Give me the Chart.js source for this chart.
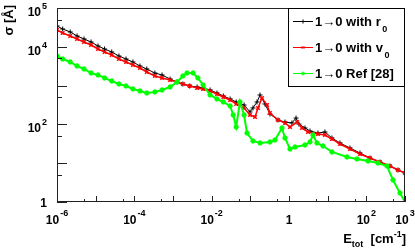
<!DOCTYPE html>
<html>
<head>
<meta charset="utf-8">
<script src="https://cdn.jsdelivr.net/npm/chart.js@4"></script>
<style>
  html, body { margin: 0; padding: 0; background: #fff; }
  #wrap { width: 415px; height: 249px; }
</style>
</head>
<body>
<div id="wrap"><canvas id="mycanvas" width="415" height="249"></canvas></div>
<script>
// values (E_tot in cm^-1, sigma in A^2)
var eR0 = [1.0e-6, 1.4e-6, 2.2e-6, 3.3e-6, 5.0e-6, 7.6e-6, 1.15e-5, 1.7e-5, 2.6e-5, 4.0e-5,
	6.1e-5, 9.2e-5, 1.4e-4, 2.1e-4, 3.4e-4, 5.2e-4, 8.4e-4, 1.27e-3, 1.8e-3, 2.7e-3,
	4.2e-3, 6.0e-3, 9.1e-3, 1.37e-2, 2.0e-2, 3.0e-2, 4.3e-2, 6.9e-2, 9.8e-2, 0.117,
	0.149, 0.178, 0.239, 0.322, 0.519, 0.787, 1.19, 1.52, 1.81, 2.59,
	3.49, 5.61, 8.51, 12.9, 20.8, 37.8, 68.5, 124, 225, 408, 658, 1000];
var sigR0 = [34400, 28800, 24100, 19000, 15900, 13300, 10500, 8770, 7350, 5790,
	4850, 4060, 3200, 2680, 2110, 1880, 1480, 1240, 1100, 977,
	920, 867, 771, 645, 540, 452, 378, 316, 209, 265,
	378, 573, 336, 185, 130, 115, 109, 146, 102, 80.8,
	67.6, 60.0, 63.7, 44.6, 33.2, 24.7, 18.3, 13.6, 10.7, 8.47, 6.68, 5.59];

var eV0 = [1.0e-6, 1.4e-6, 2.2e-6, 3.3e-6, 5.0e-6, 7.6e-6, 1.15e-5, 1.7e-5, 2.6e-5, 4.0e-5,
	6.1e-5, 9.2e-5, 1.4e-4, 2.1e-4, 3.4e-4, 5.2e-4, 8.4e-4, 1.27e-3, 1.8e-3, 2.7e-3,
	4.2e-3, 6.0e-3, 9.1e-3, 1.37e-2, 2.0e-2, 3.0e-2, 4.3e-2, 6.9e-2, 9.8e-2, 0.132,
	0.158, 0.200, 0.270, 0.322, 0.519, 0.787, 1.06, 1.61, 2.17, 3.10,
	5.61, 8.51, 12.9, 20.8, 37.8, 68.5, 124, 225, 408, 658, 1000];
var sigV0 = [27100, 22700, 19000, 15900, 13300, 11100, 8770, 7350, 6150, 4850,
	4060, 3400, 2840, 2240, 1770, 1570, 1390, 1240, 1100, 977,
	867, 817, 726, 608, 508, 426, 336, 265, 175, 155,
	265, 479, 316, 197, 130, 109, 85.7, 115, 80.8, 63.7,
	56.6, 53.3, 42.1, 31.3, 23.2, 17.3, 13.6, 10.7, 8.47, 6.68, 5.59];

var eRef = [1.0e-6, 1.4e-6, 2.2e-6, 3.3e-6, 5.0e-6, 7.6e-6, 1.15e-5, 1.7e-5, 2.6e-5, 4.0e-5,
	6.1e-5, 9.2e-5, 1.4e-4, 2.1e-4, 3.4e-4, 5.2e-4, 8.4e-4, 1.27e-3, 1.8e-3, 2.3e-3,
	3.3e-3, 4.4e-3, 6.0e-3, 9.1e-3, 1.37e-2, 2.0e-2, 3.0e-2, 3.6e-2, 4.3e-2, 5.4e-2,
	6.9e-2, 8.2e-2, 0.117, 0.178, 0.322, 0.434, 0.658, 0.787, 1.06, 1.43,
	2.59, 3.49, 4.17, 5.28, 7.57, 12.9, 31.6, 57.3, 110, 200, 342, 489, 741, 1000];
var sigRef = [5790, 4850, 4060, 3200, 2680, 2110, 1880, 1570, 1310, 1100,
	977, 817, 726, 645, 684, 771, 920, 1240, 1770, 2110,
	2110, 1570, 1035, 573, 452, 378, 298, 175, 85.7, 378,
	175, 60.0, 37.4, 33.2, 35.2, 39.6, 80.8, 44.6, 23.2, 26.2,
	29.5, 35.2, 53.3, 33.2, 27.7, 19.5, 14.5, 12.8, 11.4, 10.1, 8.47, 3.69, 1.71, 1.0];

var seriesNames = ['with r', 'with v', 'Ref [28]'];
var xMajor = [1e-6, 1e-5, 1e-4, 1e-3, 1e-2, 1e-1, 1, 10, 100, 1000];
var xMinor = [5e-6, 5e-5, 5e-4, 5e-3, 5e-2, 5e-1, 5, 50, 500];
var xLabels = [1e-6, 1e-4, 1e-2, 1, 100, 1000];
var yMajor = [1, 10, 100, 1000, 1e4, 1e5];
var yMinor = [5, 50, 500, 5000, 5e4];
var yLabels = [1, 100, 1e4, 1e5];

var FONT = "'Liberation Sans', Arial, Helvetica, sans-serif";

function pairs(xs, ys) {
	var out = [];
	for (var i = 0; i < xs.length; i++) out.push({x: xs[i], y: ys[i]});
	return out;
}

function expOf(v) { return Math.round(Math.log10(v)); }

// "10" with a raised exponent, or plain "1"
function powParts(v) {
	var e = expOf(v);
	if (e === 0) return {base: '1', sup: ''};
	return {base: '10', sup: String(e)};
}

function drawMarker(ctx, style, x, y, r) {
	if (Chart.helpers && Chart.helpers.drawPoint) {
		Chart.helpers.drawPoint(ctx, {pointStyle: style, radius: r, borderWidth: 1, rotation: 0}, x, y);
	}
}

var rootLook = {
	id: 'rootLook',
	afterDatasetsDraw: function(chart) {
		var ctx = chart.ctx, a = chart.chartArea;
		var sx = chart.scales.x, sy = chart.scales.y;
		var i, p;
		ctx.save();

		// frame
		ctx.strokeStyle = '#222';
		ctx.lineWidth = 1;
		ctx.strokeRect(a.left + 0.5, a.top + 0.5, a.right - a.left - 1, a.bottom - a.top - 1);

		// ticks, inward
		ctx.beginPath();
		for (i = 0; i < xMajor.length; i++) {
			p = Math.round(sx.getPixelForValue(xMajor[i])) + 0.5;
			ctx.moveTo(p, a.bottom); ctx.lineTo(p, a.bottom - 6);
		}
		for (i = 0; i < xMinor.length; i++) {
			p = Math.round(sx.getPixelForValue(xMinor[i])) + 0.5;
			ctx.moveTo(p, a.bottom); ctx.lineTo(p, a.bottom - 3);
		}
		for (i = 0; i < yMajor.length; i++) {
			p = Math.round(sy.getPixelForValue(yMajor[i])) + 0.5;
			ctx.moveTo(a.left, p); ctx.lineTo(a.left + 10, p);
		}
		for (i = 0; i < yMinor.length; i++) {
			p = Math.round(sy.getPixelForValue(yMinor[i])) + 0.5;
			ctx.moveTo(a.left, p); ctx.lineTo(a.left + 5, p);
		}
		ctx.stroke();

		// tick labels
		ctx.fillStyle = '#000';
		ctx.textBaseline = 'alphabetic';
		ctx.textAlign = 'left';
		for (i = 0; i < xLabels.length; i++) {
			var q = powParts(xLabels[i]);
			ctx.font = 'bold 12px ' + FONT;
			var wb = ctx.measureText(q.base).width;
			ctx.font = 'bold 9px ' + FONT;
			var ws = q.sup ? ctx.measureText(q.sup).width + 1 : 0;
			var cx = sx.getPixelForValue(xLabels[i]);
			var x0 = cx - (wb + ws) / 2;
			ctx.font = 'bold 12px ' + FONT;
			ctx.fillText(q.base, x0, a.bottom + 22);
			if (q.sup) {
				ctx.font = 'bold 9px ' + FONT;
				ctx.fillText(q.sup, x0 + wb + 1, a.bottom + 14);
			}
		}
		for (i = 0; i < yLabels.length; i++) {
			var r = powParts(yLabels[i]);
			var cy = sy.getPixelForValue(yLabels[i]);
			var right = a.left - 10;
			if (r.sup) {
				ctx.font = 'bold 9px ' + FONT;
				var ws2 = ctx.measureText(r.sup).width;
				ctx.fillText(r.sup, right - ws2, cy + 1);
				ctx.font = 'bold 12px ' + FONT;
				var wb2 = ctx.measureText(r.base).width;
				ctx.fillText(r.base, right - ws2 - 1 - wb2, cy + 8);
			} else {
				ctx.font = 'bold 12px ' + FONT;
				var w1 = ctx.measureText(r.base).width;
				ctx.fillText(r.base, right - w1, cy + 4.5);
			}
		}

		// x axis title: E_tot [cm^-1], right aligned
		var pieces = [
			{t: 'E', f: 13, dy: 0},
			{t: 'tot', f: 9, dy: 4},
			{t: '  [cm', f: 13, dy: 0},
			{t: '-1', f: 9, dy: -6},
			{t: ']', f: 13, dy: 0}
		];
		var total = 0;
		for (i = 0; i < pieces.length; i++) {
			ctx.font = 'bold ' + pieces[i].f + 'px ' + FONT;
			pieces[i].w = ctx.measureText(pieces[i].t).width;
			total += pieces[i].w;
		}
		var tx = a.right + 1 - total;
		for (i = 0; i < pieces.length; i++) {
			ctx.font = 'bold ' + pieces[i].f + 'px ' + FONT;
			ctx.fillText(pieces[i].t, tx, 243 + pieces[i].dy);
			tx += pieces[i].w;
		}

		// y axis title, rotated, at top
		ctx.save();
		ctx.translate(13, 5);
		ctx.rotate(-Math.PI / 2);
		ctx.textAlign = 'right';
		ctx.font = 'bold 13px ' + FONT;
		ctx.fillText('\u03c3 [\u00c5]', 0, 0);
		ctx.restore();

		// legend box
		var lx = 288, ly = a.top, lw = a.right - 288, lh = 79;
		ctx.fillStyle = '#fff';
		ctx.fillRect(lx, ly, lw, lh);
		ctx.strokeStyle = '#000';
		ctx.strokeRect(lx + 0.5, ly + 0.5, lw - 1, lh - 1);
		var ds = chart.data.datasets;
		for (i = 0; i < ds.length; i++) {
			var rowY = ly + 13 + i * 26;
			ctx.strokeStyle = ds[i].borderColor;
			ctx.lineWidth = 1;
			ctx.beginPath();
			ctx.moveTo(293, rowY + 0.5); ctx.lineTo(313, rowY + 0.5);
			ctx.stroke();
			drawMarker(ctx, ds[i].pointStyle, 303, rowY + 0.5, 2);
			ctx.fillStyle = '#000';
			ctx.textAlign = 'left';
			ctx.font = 'bold 13px ' + FONT;
			var txt = '1\u21920 ' + seriesNames[i];
			ctx.fillText(txt, 315, rowY + 5);
			if (i < 2) {
				var ww = ctx.measureText(txt).width;
				ctx.font = 'bold 9px ' + FONT;
				ctx.fillText('0', 315 + ww + 1.5, rowY + 11);
			}
		}
		ctx.restore();
	}
};

new Chart(document.getElementById('mycanvas'), {
	type: 'line',
	data: {
		datasets: [
			{
				label: '1->0 with r0',
				data: pairs(eR0, sigR0),
				borderColor: '#000000',
				backgroundColor: '#000000',
				pointBorderColor: '#000000',
				pointStyle: 'cross',
				borderWidth: 1,
				order: 2
			},
			{
				label: '1->0 with v0',
				data: pairs(eV0, sigV0),
				borderColor: '#ff0000',
				backgroundColor: '#ff0000',
				pointBorderColor: '#ff0000',
				pointStyle: 'crossRot',
				borderWidth: 1.5,
				order: 1
			},
			{
				label: '1->0 Ref [28]',
				data: pairs(eRef, sigRef),
				borderColor: '#00ff00',
				backgroundColor: '#00ff00',
				pointBorderColor: '#00ff00',
				pointStyle: 'star',
				borderWidth: 2,
				order: 0
			}
		]
	},
	options: {
		responsive: false,
		animation: false,
		devicePixelRatio: 1,
		layout: { padding: { left: 57, right: 10, top: 8, bottom: 47 } },
		elements: {
			line: { tension: 0, fill: false },
			point: { radius: 2.5, borderWidth: 1, hoverRadius: 2.5 }
		},
		scales: {
			x: { type: 'logarithmic', min: 1e-6, max: 1e3, display: false },
			y: { type: 'logarithmic', min: 1, max: 1e5, display: false }
		},
		plugins: {
			legend: { display: false },
			tooltip: { enabled: false }
		}
	},
	plugins: [rootLook]
});
</script>
</body>
</html>
